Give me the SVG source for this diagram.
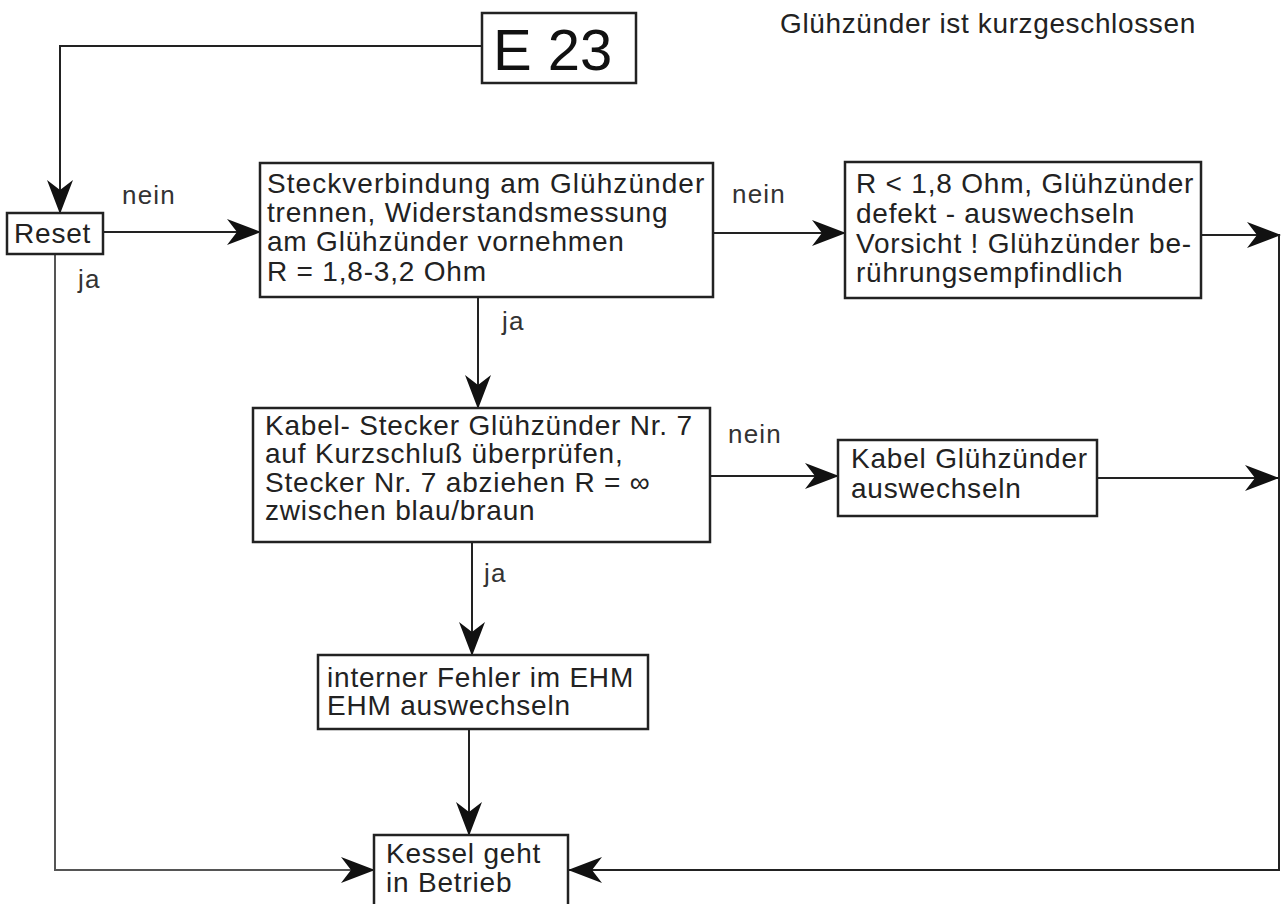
<svg xmlns="http://www.w3.org/2000/svg" width="1286" height="904" viewBox="0 0 1286 904">
<style>
.box{fill:#fff;stroke:#222;stroke-width:2.5}
.t{font-family:"Liberation Sans",Arial,sans-serif;font-size:28px;letter-spacing:0.8px;fill:#222}
.lbl{font-family:"Liberation Sans",Arial,sans-serif;font-size:26px;letter-spacing:1.2px;fill:#333}
.c{fill:none;stroke:#222;stroke-width:2}
.cl{fill:none;stroke:#555;stroke-width:2}
</style>
<defs>
<marker id="arr" markerUnits="userSpaceOnUse" markerWidth="34" markerHeight="26" viewBox="0 0 34 26" refX="33" refY="13" orient="auto">
<path d="M0,0 L34,13 L0,26 L10,13 Z" fill="#111"/>
</marker>
</defs>
<rect width="1286" height="904" fill="#fff"/>
<text class="t" x="780" y="33" font-size="26" textLength="416">Glühzünder ist kurzgeschlossen</text>

<g id="connectors">
<path class="c" d="M482,46 H60 V213" marker-end="url(#arr)"/>
<path class="c" d="M103,232 H260" marker-end="url(#arr)"/>
<path class="c" d="M713,233 H845" marker-end="url(#arr)"/>
<path class="c" d="M1201,235 H1280" marker-end="url(#arr)"/>
<path class="c" d="M1279,235 V870 H569" marker-end="url(#arr)"/>
<path class="c" d="M478,297 V408" marker-end="url(#arr)"/>
<path class="c" d="M710,476 H838" marker-end="url(#arr)"/>
<path class="c" d="M1097,478 H1278" marker-end="url(#arr)"/>
<path class="c" d="M472,542 V655" marker-end="url(#arr)"/>
<path class="c" d="M469,729 V835" marker-end="url(#arr)"/>
<path class="cl" d="M55,254 V870 H374" marker-end="url(#arr)"/>
<text class="lbl" x="122" y="204">nein</text>
<text class="lbl" x="78" y="288">ja</text>
<text class="lbl" x="732" y="203">nein</text>
<text class="lbl" x="502" y="330">ja</text>
<text class="lbl" x="728" y="443">nein</text>
<text class="lbl" x="484" y="582">ja</text>
</g>

<g id="e23">
<rect class="box" x="482" y="13" width="154" height="70"/>
<text x="493" y="70" font-family="Liberation Sans, Arial, sans-serif" font-size="58" fill="#111">E 23</text>
</g>

<g id="reset">
<rect class="box" x="7" y="213" width="96" height="41"/>
<text class="t" x="14" y="243">Reset</text>
</g>

<g id="box1">
<rect class="box" x="260" y="163" width="453" height="134"/>
<text class="t" x="267" y="193" textLength="438">Steckverbindung am Glühzünder</text>
<text class="t" x="267" y="222">trennen, Widerstandsmessung</text>
<text class="t" x="267" y="251">am Glühzünder vornehmen</text>
<text class="t" x="267" y="281">R = 1,8-3,2 Ohm</text>
</g>

<g id="box2">
<rect class="box" x="845" y="162" width="356" height="136"/>
<text class="t" x="856" y="193">R &lt; 1,8 Ohm, Glühzünder</text>
<text class="t" x="856" y="223">defekt - auswechseln</text>
<text class="t" x="856" y="253">Vorsicht ! Glühzünder be-</text>
<text class="t" x="856" y="282">rührungsempfindlich</text>
</g>

<g id="box3">
<rect class="box" x="253" y="408" width="457" height="134"/>
<text class="t" x="265" y="435">Kabel- Stecker Glühzünder Nr. 7</text>
<text class="t" x="265" y="463">auf Kurzschluß überprüfen,</text>
<text class="t" x="265" y="492">Stecker Nr. 7 abziehen R = ∞</text>
<text class="t" x="265" y="520">zwischen blau/braun</text>
</g>

<g id="box4">
<rect class="box" x="838" y="440" width="259" height="76"/>
<text class="t" x="851" y="468">Kabel Glühzünder</text>
<text class="t" x="851" y="498">auswechseln</text>
</g>

<g id="box5">
<rect class="box" x="318" y="655" width="330" height="74"/>
<text class="t" x="327" y="687">interner Fehler im EHM</text>
<text class="t" x="327" y="715">EHM auswechseln</text>
</g>

<g id="kessel">
<rect class="box" x="374" y="835" width="194" height="80"/>
<text class="t" x="386" y="863">Kessel geht</text>
<text class="t" x="386" y="892">in Betrieb</text>
</g>
</svg>
